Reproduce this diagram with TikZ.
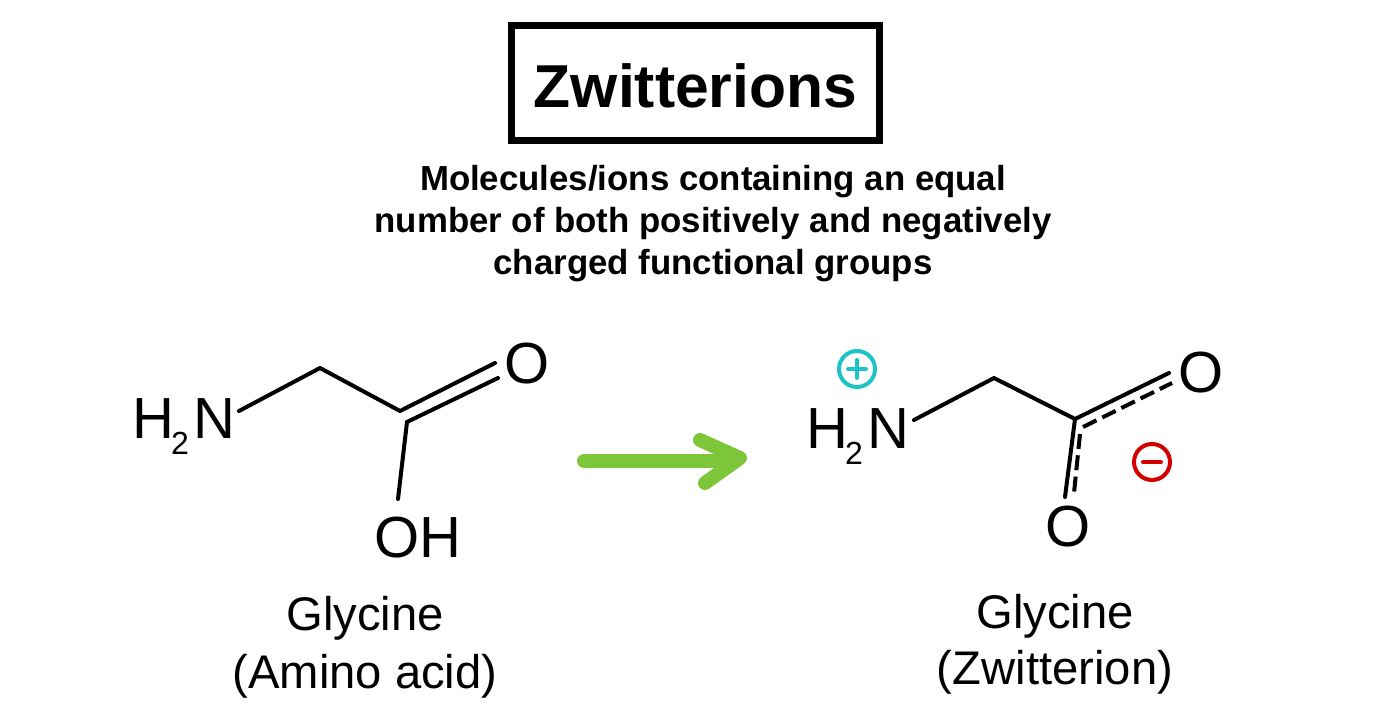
\documentclass[tikz,border=0pt]{standalone}
\usepackage{fontspec}
\setmainfont{Liberation Sans}
\definecolor{arrowgreen}{HTML}{7DC639}
\definecolor{plusteal}{HTML}{1CC4C9}
\definecolor{minusred}{HTML}{D40000}
\newcommand{\subtwo}{\kern-1.5pt\raisebox{-8pt}{\fontsize{16}{16}\selectfont 2}\kern2.5pt}
\tikzset{
    atom/.style={inner sep=0pt,anchor=base,font=\fontsize{29}{29}\selectfont},
    caption/.style={inner sep=0pt,align=center,font=\fontsize{23.6}{29}\selectfont},
    bond/.style={line width=2pt,line cap=round},
    partial/.style={bond,dash pattern=on 7.5pt off 3.2pt,line cap=butt},
    chargering/.style={circle,draw=#1,line width=2pt,minimum size=18pt,inner sep=0pt},
    chargebar/.style={draw=#1,line width=2pt,line cap=round},
}

\begin{document}
\begin{tikzpicture}[x=0.5pt,y=-0.5pt]
\useasboundingbox (0,0) rectangle (1377,728);
% heading
\node[draw,line width=3.5pt,minimum width=184pt,minimum height=57.5pt,inner sep=0pt,text height=25pt,text depth=0pt,
    font=\fontsize{30.3}{30}\selectfont\bfseries] (title) at (695.5,82.5) {Zwitterions};
\node[inner sep=0pt,align=center,font=\fontsize{17.4}{21}\selectfont\bfseries] (subtitle) at (713,224)
    {Molecules/ions containing an equal\\number of both positively and negatively\\charged functional groups};
% glycine
\node[atom] (nleft) at (184,438) {H\subtwo N};
\node[atom] (oleft) at (527,383) {O};
\node[atom] (ohleft) at (418,557) {OH};
\coordinate (nendleft) at (239,411);
\coordinate (chleft) at (320,368);
\coordinate (cleft) at (400,411);
\coordinate (cinleft) at (407,422);
\coordinate (oaleft) at (495,363);
\coordinate (obleft) at (498,378);
\coordinate (ohendleft) at (398,499);
\draw[bond,line join=round] (nendleft) -- (chleft) -- (cleft) -- (oaleft);
\draw[bond] (cinleft) -- (obleft);
\draw[bond] (cinleft) -- (ohendleft);
\node[caption] (capleft) at (365,647) {Glycine\\(Amino acid)};
% reaction arrow
\coordinate (arrowtail) at (584,461);
\coordinate (arrowjoin) at (730,461);
\coordinate (arrowtip) at (740,458);
\coordinate (headtop) at (700,440);
\coordinate (headbot) at (705,483);
\draw[arrowgreen,line width=7pt,line cap=round,line join=round] (arrowtail) -- (arrowjoin);
\draw[arrowgreen,line width=7pt,line cap=round,line join=round] (headtop) -- (arrowtip) -- (headbot);
% zwitterion
\node[atom] (nright) at (858,448) {H\subtwo N};
\node[atom] (oupper) at (1201,392) {O};
\node[atom] (olower) at (1068,546) {O};
\coordinate (nendright) at (914,420);
\coordinate (chright) at (994,378);
\coordinate (cright) at (1075,419);
\coordinate (oupperend) at (1169,373);
\coordinate (olowerend) at (1065,497);
\coordinate (dashastart) at (1083,427);
\coordinate (dashaend) at (1172,383);
\coordinate (dashbstart) at (1080,434);
\coordinate (dashbend) at (1074,493);
\draw[bond,line join=round] (nendright) -- (chright) -- (cright) -- (oupperend);
\draw[bond] (cright) -- (olowerend);
\draw[partial] (dashastart) -- (dashaend);
\draw[partial] (dashbstart) -- (dashbend);
\node[chargering=plusteal] (plus) at (857,369) {};
\draw[chargebar=plusteal] ([xshift=-4.5pt]plus.center) -- ([xshift=4.5pt]plus.center);
\draw[chargebar=plusteal] ([yshift=-4.5pt]plus.center) -- ([yshift=4.5pt]plus.center);
\node[chargering=minusred] (minus) at (1152,462) {};
\draw[chargebar=minusred] ([xshift=-4.5pt]minus.center) -- ([xshift=4.5pt]minus.center);
\node[caption] (capright) at (1055,644) {Glycine\\[-1pt](Zwitterion)};
\end{tikzpicture}
\end{document}
